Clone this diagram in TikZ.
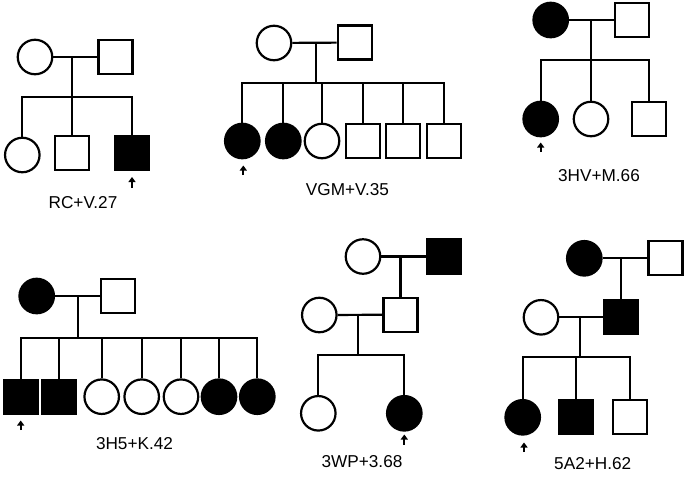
\documentclass[tikz,border=0pt]{standalone}
\usepackage{fontspec}
\setmainfont{Liberation Sans}
\usetikzlibrary{arrows.meta}
\tikzset{
  fem/.style={circle,draw,line width=2.2pt,minimum size=34.5pt,inner sep=0pt},
  mal/.style={rectangle,draw,line width=2.2pt,minimum size=34pt,inner sep=0pt},
  aff/.style={fill=black},
  ln/.style={line width=2.2pt,line join=miter},
  prob/.style={line width=2pt,-{Triangle[width=7pt,length=5pt]}},
  lbl/.style={inner sep=0pt,font=\fontsize{17.2}{20}\selectfont}
}
\begin{document}
\begin{tikzpicture}[x=1pt,y=-1pt]
			\useasboundingbox (0,0) rectangle (685,480);
			% RC+V.27
			\node[fem] (a1) at (35,57) {};
			\node[mal] (a2) at (115.5,57) {};
			\node[fem] (a3) at (22.3,155) {};
			\node[mal] (a4) at (72.3,153) {};
			\node[mal,aff] (a5) at (132,153) {};
			\coordinate (aj) at (72.3,57);
			\coordinate (as) at (72.3,96.7);
			\draw[ln] (a1) -- (a2);
			\draw[ln] (aj) -- (as);
			\draw[ln] (a3.north) |- (as) -| (a5.north);
			\draw[ln] (as) -- (a4.north);
			\draw[prob] (132,188) -- (132,177);
			\node[lbl] (la) at (83,203) {RC+V.27};
			% VGM+V.35
			\node[fem] (b1) at (274,43) {};
			\node[mal] (b2) at (354.7,42.5) {};
			\node[fem,aff] (b3) at (242.3,141) {};
			\node[fem,aff] (b4) at (283.3,141) {};
			\node[fem] (b5) at (322,141) {};
			\node[mal] (b6) at (362.7,141) {};
			\node[mal] (b7) at (402.7,141) {};
			\node[mal] (b8) at (444,141) {};
			\coordinate (bj) at (316,42.7);
			\coordinate (bs) at (316,82.7);
			\draw[ln] (b1) -- (b2);
			\draw[ln] (bj) -- (bs);
			\draw[ln] (b3.north) |- (bs) -| (b8.north);
			\draw[ln] (b4.north) -- (b4.north |- bs);
			\draw[ln] (b5.north) -- (b5.north |- bs);
			\draw[ln] (b6.north) -- (b6.north |- bs);
			\draw[ln] (b7.north) -- (b7.north |- bs);
			\draw[prob] (243.3,175) -- (243.3,165.5);
			\node[lbl] (lb) at (347.5,190) {VGM+V.35};
			% 3HV+M.66
			\node[fem,aff] (c1) at (550.7,20) {};
			\node[mal] (c2) at (632,20) {};
			\node[fem,aff] (c3) at (540.7,119) {};
			\node[fem] (c4) at (591,119) {};
			\node[mal] (c5) at (649.3,119) {};
			\coordinate (cj) at (590.7,20);
			\coordinate (cs) at (590.7,60);
			\draw[ln] (c1) -- (c2);
			\draw[ln] (cj) -- (cs);
			\draw[ln] (c3.north) |- (cs) -| (c5.north);
			\draw[ln] (c4.north) -- (c4.north |- cs);
			\draw[prob] (540.7,152) -- (540.7,142.5);
			\node[lbl] (lc) at (599,176) {3HV+M.66};
			% 3H5+K.42
			\node[fem,aff] (d1) at (36.7,296) {};
			\node[mal] (d2) at (118,296) {};
			\node[mal,aff] (d3) at (20.7,396.7) {};
			\node[mal,aff] (d4) at (59,396.7) {};
			\node[fem] (d5) at (101.7,396.7) {};
			\node[fem] (d6) at (141.7,396.7) {};
			\node[fem] (d7) at (181,396.7) {};
			\node[fem,aff] (d8) at (219,396.7) {};
			\node[fem,aff] (d9) at (257.3,396.7) {};
			\coordinate (dj) at (78.3,296);
			\coordinate (ds) at (78.3,337.7);
			\draw[ln] (d1) -- (d2);
			\draw[ln] (dj) -- (ds);
			\draw[ln] (d3.north) |- (ds) -| (d9.north);
			\draw[ln] (d4.north) -- (d4.north |- ds);
			\draw[ln] (d5.north) -- (d5.north |- ds);
			\draw[ln] (d6.north) -- (d6.north |- ds);
			\draw[ln] (d7.north) -- (d7.north |- ds);
			\draw[ln] (d8.north) -- (d8.north |- ds);
			\draw[prob] (20.7,430) -- (20.7,420.5);
			\node[lbl] (ld) at (134.5,444) {3H5+K.42};
			% 3WP+3.68
			\node[fem] (e1) at (363,256.5) {};
			\node[mal,aff] (e2) at (444,256.5) {};
			\node[mal] (e3) at (400.5,314.7) {};
			\node[fem] (e4) at (319.3,315) {};
			\node[fem] (e5) at (318.3,413.3) {};
			\node[fem,aff] (e6) at (404.3,413.3) {};
			\coordinate (ej) at (400.5,256.5);
			\coordinate (ek) at (358.3,315);
			\coordinate (es) at (358.3,355.3);
			\draw[ln] (e1) -- (e2);
			\draw[ln] (ej) -- (e3.north);
			\draw[ln] (e4) -- (e3);
			\draw[ln] (ek) -- (es);
			\draw[ln] (e5.north) |- (es) -| (e6.north);
			\draw[prob] (404.3,444.5) -- (404.3,434.5);
			\node[lbl] (le) at (362,461.5) {3WP+3.68};
			% 5A2+H.62
			\node[fem,aff] (f1) at (584.3,258.3) {};
			\node[mal] (f2) at (665.5,258.3) {};
			\node[mal,aff] (f3) at (621,317.3) {};
			\node[fem] (f4) at (541,317.3) {};
			\node[fem,aff] (f5) at (522.7,417.3) {};
			\node[mal,aff] (f6) at (576.3,417.3) {};
			\node[mal] (f7) at (630,417.3) {};
			\coordinate (fj) at (621,258.3);
			\coordinate (fk) at (580,317.3);
			\coordinate (fs) at (580,357.3);
			\draw[ln] (f1) -- (f2);
			\draw[ln] (fj) -- (f3.north);
			\draw[ln] (f4) -- (f3);
			\draw[ln] (fk) -- (fs);
			\draw[ln] (f5.north) |- (fs) -| (f7.north);
			\draw[ln] (f6.north) -- (f6.north |- fs);
			\draw[prob] (524,452) -- (524,442.5);
			\node[lbl] (lf) at (592.7,463.3) {5A2+H.62};
		\end{tikzpicture}
\end{document}
